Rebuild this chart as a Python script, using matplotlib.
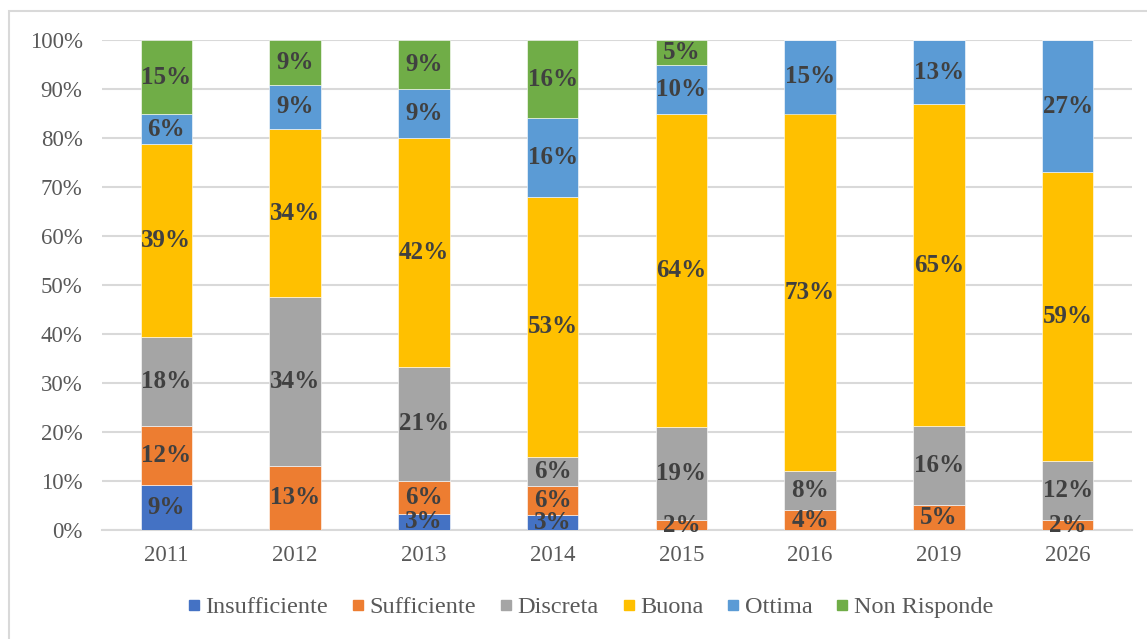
import matplotlib.pyplot as plt
from matplotlib.lines import Line2D
from matplotlib.patches import Rectangle
import numpy as np

years = ["2011", "2012", "2013", "2014", "2015", "2016", "2019", "2026"]
series_names = ["Insufficiente", "Sufficiente", "Discreta", "Buona", "Ottima", "Non Risponde"]
colors = ["#4472C4", "#ED7D31", "#A5A5A5", "#FFC000", "#5B9BD5", "#70AD47"]

insufficiente = [9, 0, 3, 3, 0, 0, 0, 0]
sufficiente = [12, 13, 6, 6, 2, 4, 5, 2]
discreta = [18, 34, 21, 6, 19, 8, 16, 12]
buona = [39, 34, 42, 53, 64, 73, 65, 59]
ottima = [6, 9, 9, 16, 10, 15, 13, 27]
non_risponde = [15, 9, 9, 16, 5, 0, 0, 0]

plt.rcParams["font.family"] = ["Liberation Serif", "DejaVu Serif"]

data = np.array([insufficiente, sufficiente, discreta, buona, ottima, non_risponde], dtype=float)
shares = data / data.sum(axis=0)  # 100% stacked

fig = plt.figure(figsize=(11.47, 6.39), dpi=100)
ax = fig.add_axes([102 / 1147, 1 - 530 / 639, (1132 - 102) / 1147, (530 - 40) / 639])

x = np.arange(len(years))
bottom = np.zeros(len(years))
for i, name in enumerate(series_names):
    ax.bar(x, shares[i], 0.4, bottom=bottom, color=colors[i], label=name,
           edgecolor="white", linewidth=0.4, zorder=3)
    for j in range(len(years)):
        if data[i, j] > 0:
            ax.text(x[j], bottom[j] + shares[i, j] / 2, f"{int(data[i, j])}%",
                    ha="center", va="center", fontsize=18, fontweight="bold",
                    color="#404040", zorder=4)
    bottom += shares[i]

ax.set_xlim(-0.5, len(years) - 0.5)
ax.set_ylim(0, 1)
ax.set_yticks(np.linspace(0, 1, 11))
ax.set_yticklabels([f"{v}%" for v in range(0, 101, 10)])
ax.set_xticks(x)
ax.set_xticklabels(years)
ax.tick_params(axis="both", length=0, labelsize=16.5, labelcolor="#595959")
ax.tick_params(axis="y", pad=14)
ax.tick_params(axis="x", pad=11)
ax.grid(axis="y", color="#D9D9D9", linewidth=1.5, zorder=0)
for s in ["top", "right", "left"]:
    ax.spines[s].set_visible(False)
ax.spines["bottom"].set_color("#D9D9D9")
ax.spines["bottom"].set_linewidth(1.5)

handles = [Line2D([0], [0], marker="s", linestyle="none", markersize=6.5,
                  markerfacecolor=c, markeredgecolor=c) for c in colors]
fig.legend(handles, series_names, loc="center", bbox_to_anchor=(591 / 1147, 1 - 607 / 639),
           ncol=6, frameon=False, fontsize=17.5, handlelength=0.45, handletextpad=0.25,
           columnspacing=1.0, labelcolor="#595959")

fig.patches.append(Rectangle((9 / 1147, -0.05), 1.1, 1 - 11 / 639 + 0.05,
                             transform=fig.transFigure, fill=False,
                             edgecolor="#D9D9D9", linewidth=1.5))

fig.savefig("out.png", dpi=100)
